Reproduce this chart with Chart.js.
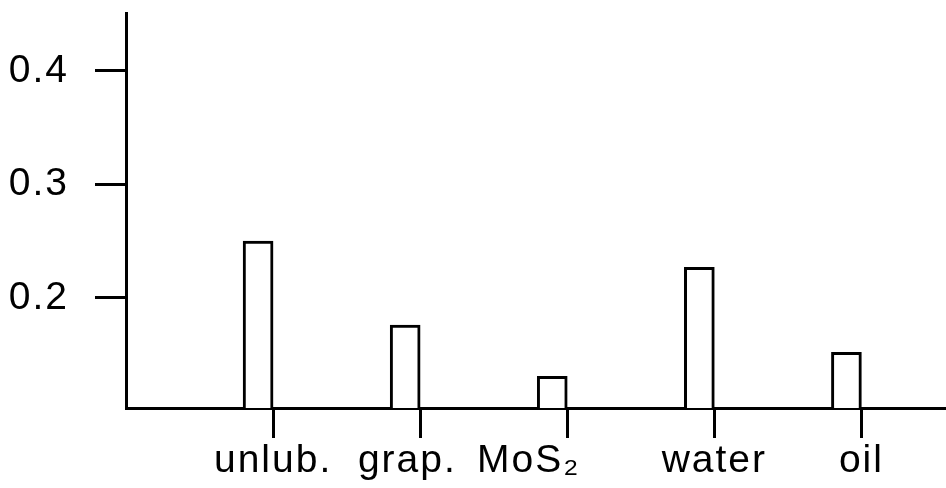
<!DOCTYPE html>
<html><head><meta charset="utf-8">
<script src="https://cdn.jsdelivr.net/npm/chart.js@4"></script>
<style>html,body{margin:0;padding:0;background:#fff}</style>
</head><body>
<canvas id="c" width="946" height="488"></canvas>
<script>
const categories = ['unlub.', 'grap.', 'MoS\u2082', 'water', 'oil'];
const frictionValues = [0.250, 0.176, 0.131, 0.227, 0.152];
const yTickValues = [0.2, 0.3, 0.4];

const FONT = {family: '"Liberation Sans", Arial, Helvetica, sans-serif', size: 39};
const labelTrail = [0, 2, 6, 0, 0];

const spacingPlugin = {
  id: 'spacing',
  beforeUpdate: c => { c.ctx.letterSpacing = '2px'; },
  beforeDraw: c => { c.ctx.letterSpacing = '2px'; }
};

new Chart(document.getElementById('c'), {
  type: 'bar',
  plugins: [spacingPlugin],
  data: {
    datasets: [
      {
        data: categories.map((c, i) => ({x: i + 1, y: frictionValues[i]})),
        backgroundColor: '#fff',
        borderColor: '#000',
        borderWidth: 3,
        borderSkipped: 'start',
        clip: 0
      },
      { data: [] }
    ]
  },
  options: {
    responsive: false,
    devicePixelRatio: 1,
    animation: false,
    barThickness: 30,
    layout: {padding: {top: 13, left: 0, right: 0, bottom: 0}},
    plugins: {legend: {display: false}, tooltip: {enabled: false}},
    scales: {
      x: {
        type: 'linear',
        offset: false,
        min: 0,
        max: 5.575,
        afterBuildTicks: s => { s.ticks = categories.map((c, i) => ({value: i + 1})); },
        ticks: {
          font: FONT, color: '#000', padding: 0, maxRotation: 0, autoSkip: false,
          callback: (v) => { const i = Math.round(v) - 1; return categories[i] + ' '.repeat(labelTrail[i]); }
        },
        grid: {offset: false, drawOnChartArea: false, drawTicks: true, tickLength: 30, tickWidth: 3, tickColor: '#000'},
        border: {display: true, color: '#000', width: 3},
        afterFit: s => { s.height = 80; s.paddingLeft = 0; s.paddingRight = 0; }
      },
      y: {
        min: 0.103,
        max: 0.451,
        afterBuildTicks: s => { s.ticks = yTickValues.map(v => ({value: v})); },
        ticks: {font: FONT, color: '#000', padding: 26, callback: v => Number(v).toFixed(1)},
        grid: {drawOnChartArea: false, drawTicks: true, tickLength: 31, tickWidth: 3, tickColor: '#000'},
        border: {display: true, color: '#000', width: 3},
        afterFit: s => { s.width = 126; s.paddingTop = 0; s.paddingBottom = 0; }
      }
    }
  }
});
</script>
</body></html>
